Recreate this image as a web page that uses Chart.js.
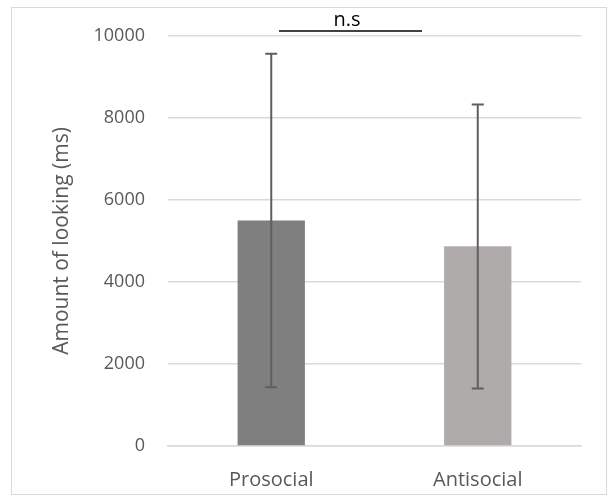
<!DOCTYPE html>
<html>
<head>
<meta charset="utf-8">
<script src="https://cdn.jsdelivr.net/npm/chart.js@4.4.0/dist/chart.umd.min.js"></script>
<style>
  html, body { margin: 0; padding: 0; background: #fff; }
  #wrap { position: relative; width: 610px; height: 503px; }
  #frame { position: absolute; left: 11px; top: 7px; width: 596px; height: 488px; border: 1px solid #d9d9d9; box-sizing: border-box; }
  canvas { position: absolute; left: 0; top: 0; }
</style>
</head>
<body>
<div id="wrap">
  <div id="frame"></div>
  <canvas id="chart" width="610" height="503"></canvas>
</div>
<script>
// Data
const categories = ['Prosocial', 'Antisocial'];
const means = [5500, 4870];
const errLow = [1430, 1400];
const errHigh = [9570, 8330];
const barColors = ['#7f7f7f', '#afabab'];
const yTicks = [0, 2000, 4000, 6000, 8000, 10000];

const FONT = '"Open Sans", sans-serif';

// Error bars drawn through the y scale
const errorBars = {
  id: 'errorBars',
  afterDatasetsDraw(chart) {
    const ctx = chart.ctx;
    const y = chart.scales.y;
    const meta = chart.getDatasetMeta(0);
    ctx.save();
    ctx.strokeStyle = '#5f5f5f';
    ctx.lineWidth = 2;
    meta.data.forEach((bar, i) => {
      const x = bar.x;
      const top = y.getPixelForValue(errHigh[i]);
      const bot = y.getPixelForValue(errLow[i]);
      ctx.beginPath();
      ctx.moveTo(x, top); ctx.lineTo(x, bot);
      ctx.moveTo(x - 6, top); ctx.lineTo(x + 6, top);
      ctx.moveTo(x - 6, bot); ctx.lineTo(x + 6, bot);
      ctx.stroke();
    });
    ctx.restore();
  }
};

// "n.s" significance bracket above the plot
const sigMark = {
  id: 'sigMark',
  afterDraw(chart) {
    const ctx = chart.ctx;
    ctx.save();
    ctx.strokeStyle = '#000';
    ctx.lineWidth = 1.5;
    ctx.beginPath();
    ctx.moveTo(279, 31); ctx.lineTo(422, 31);
    ctx.stroke();
    ctx.fillStyle = '#000';
    ctx.font = '20px ' + FONT;
    ctx.textAlign = 'center';
    ctx.textBaseline = 'alphabetic';
    ctx.fillText('n.s', 347, 26);
    ctx.restore();
  }
};

new Chart(document.getElementById('chart'), {
  type: 'bar',
  data: {
    labels: categories,
    datasets: [{
      data: means,
      backgroundColor: barColors,
      barPercentage: 1,
      categoryPercentage: 0.326
    }]
  },
  options: {
    responsive: false,
    animation: false,
    layout: { padding: { left: 0, top: 36, right: 29, bottom: 0 } },
    plugins: { legend: { display: false }, tooltip: { enabled: false } },
    scales: {
      x: {
        grid: { display: false },
        border: { display: true, color: '#d9d9d9', width: 1.5 },
        ticks: { color: '#595959', font: { family: FONT, size: 20 }, padding: 14 },
        afterFit(scale) { scale.height = 57; }
      },
      y: {
        min: 0,
        max: 10000,
        afterBuildTicks(scale) { scale.ticks = yTicks.map(v => ({ value: v })); },
        grid: { color: '#d9d9d9', lineWidth: 1.5, drawTicks: false },
        border: { display: false },
        ticks: {
          color: '#595959',
          font: { family: FONT, size: 18 },
          padding: 23,
          callback: v => String(v)
        },
        title: {
          display: true,
          text: 'Amount of looking (ms)',
          color: '#595959',
          font: { family: FONT, size: 21 },
          padding: { top: 49, bottom: 0 }
        },
        afterFit(scale) { scale.width = 168; }
      }
    }
  },
  plugins: [errorBars, sigMark]
});
</script>
</body>
</html>
